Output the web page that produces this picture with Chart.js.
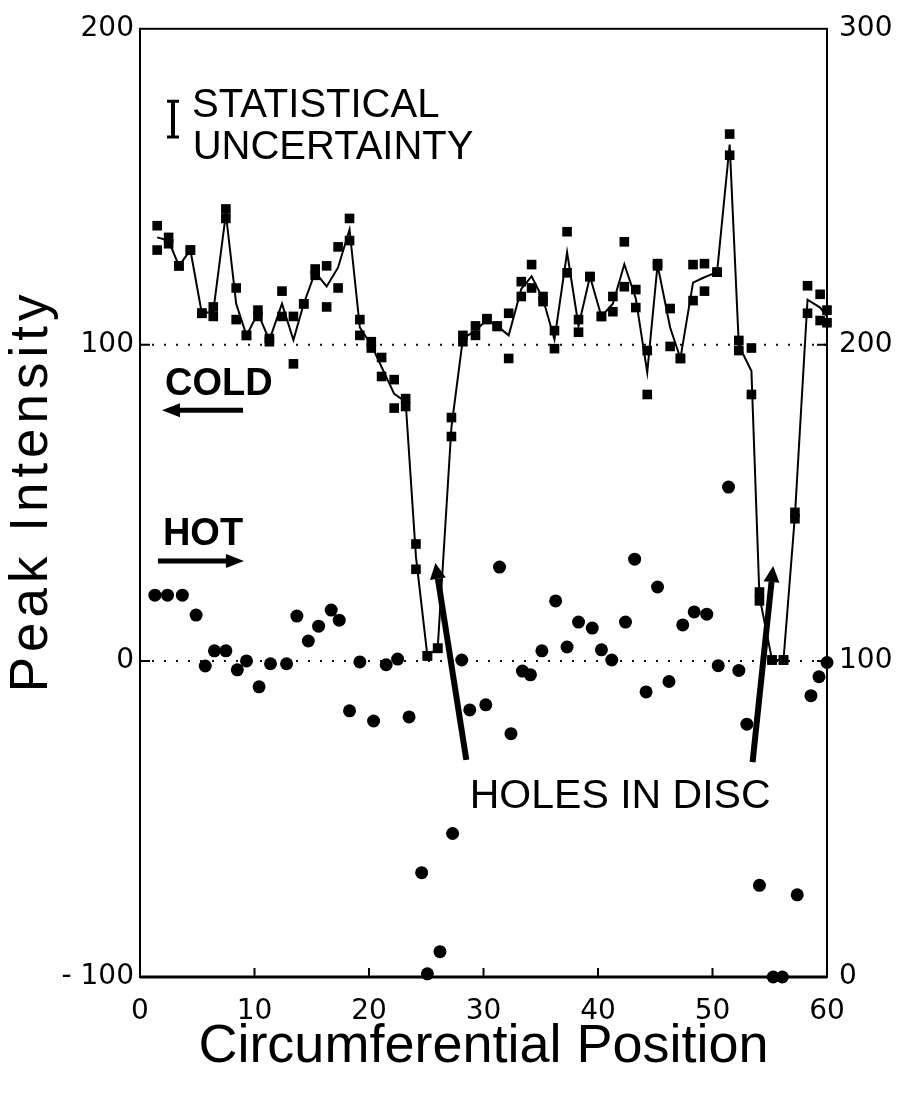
<!DOCTYPE html>
<html>
<head>
<meta charset="utf-8">
<script src="https://cdn.jsdelivr.net/npm/chart.js@4.4.1/dist/chart.umd.min.js"></script>
<style>
  html, body { margin: 0; padding: 0; background: #fff; }
  #wrap { width: 908px; height: 1098px; }
</style>
</head>
<body>
<div id="wrap"><canvas id="chart" width="908" height="1098"></canvas></div>
<script>
// cold side: two readings per position (squares) and the line drawn through them
const coldX = [1.5, 2.5, 3.4, 4.4, 5.4, 6.4, 7.5, 8.4, 9.3, 10.3,
  11.3, 12.4, 13.4, 14.3, 15.3, 16.3, 17.3, 18.3, 19.2, 20.2,
  21.1, 22.2, 23.2, 24.1, 25.1, 26.0, 27.2, 28.2, 29.3, 30.3,
  31.2, 32.2, 33.3, 34.2, 35.2, 36.2, 37.3, 38.3, 39.3, 40.3,
  41.3, 42.3, 43.3, 44.3, 45.2, 46.3, 47.2, 48.3, 49.3, 50.4,
  51.5, 52.3, 53.4, 54.1, 55.2, 56.2, 57.2, 58.3, 59.4, 60.0];
const coldHigh = [137.7, 134, 125, 130, 110, 112, 143, 118, 103, 111,
  102, 117, 109, 113, 124, 125, 131, 140, 108, 101,
  96, 89, 83, 37, 1.6, 4, 77, 103, 106, 108.3,
  106, 110, 120, 125.4, 115.3, 104.5, 135.8, 108, 121.6, 109,
  115.3, 132.6, 117.5, 98.2, 125.7, 111.5, 95.7, 125.4, 125.7, 123,
  166.7, 101.4, 99, 21.8, 0.3, 0.3, 47, 118.7, 116, 111];
const coldLow = [130, 132, 125, 130, 110, 109, 140, 108, 103, 109,
  101, 109, 94, 113, 122, 112, 118, 133, 103, 99,
  90, 80, 80.5, 29, 1.6, 4, 71, 101, 103, 108,
  105.8, 95.7, 115.3, 118, 113.7, 98.8, 122.8, 104, 121.6, 109,
  110.5, 118.4, 111.8, 84.3, 125, 99.5, 95.7, 114, 117, 123,
  160, 98.2, 84.3, 19, 0.3, 0.3, 45, 110, 107.7, 107];
const coldLine = [134, 133, 125, 130, 110, 110.5, 141.5, 113, 103, 110,
  101.5, 113, 101.5, 113, 123, 118.5, 124.5, 136.5, 105.5, 100,
  93, 84.5, 82, 33, 1.6, 4, 74, 102, 104.5, 108,
  106, 103, 117.7, 121.7, 114.5, 101.7, 129.3, 106, 121.6, 109,
  113, 125.5, 114.7, 91.3, 125.3, 105.5, 95.7, 119.7, 121.4, 123,
  163.4, 99.8, 91.7, 20.4, 0.3, 0.3, 46, 114.3, 111.8, 109];

// hot side: circles (read against the right-hand scale minus 100)
const hotX = [1.3, 2.4, 3.7, 4.9, 5.7, 6.5, 7.5, 8.5, 9.3, 10.4,
  11.4, 12.8, 13.7, 14.7, 15.6, 16.7, 17.4, 18.3, 19.2, 20.4,
  21.5, 22.5, 23.5, 24.6, 25.1, 26.2, 27.3, 28.1, 28.8, 30.2,
  31.4, 32.4, 33.4, 34.1, 35.1, 36.3, 37.3, 38.3, 39.5, 40.3,
  41.2, 42.4, 43.2, 44.2, 45.2, 46.2, 47.4, 48.4, 49.5, 50.5,
  51.4, 52.3, 53.0, 54.1, 55.3, 56.1, 57.4, 58.6, 59.3, 60.0];
const hotY = [20.8, 20.8, 20.8, 14.5, -1.6, 3.2, 3.2, -2.8, 0, -8.2,
  -0.9, -0.9, 14.2, 6.3, 11, 16.1, 12.9, -15.8, -0.3, -19,
  -1.2, 0.6, -17.7, -67, -99, -92, -54.6, 0.3, -15.5, -13.9,
  29.7, -23, -3.2, -4.4, 3.2, 19, 4.4, 12.3, 10.4, 3.5,
  0.3, 12.3, 32.2, -9.8, 23.4, -6.5, 11.4, 15.5, 14.8, -1.5,
  55, -3, -20, -71, -100, -100, -74, -11, -5, -0.5];

const xTicks = [0, 10, 20, 30, 40, 50, 60];
const leftTicks = [-100, 0, 100, 200];
const rightTicks = [0, 100, 200, 300];
const refLevels = [0, 100];

const pts = (xs, ys) => xs.map((x, i) => ({ x, y: ys[i] }));
const setTicks = list => scale => { scale.ticks = list.map(v => ({ value: v })); };

function arrow(ctx, x0, y0, x1, y1, shaft, headLen, headHalf) {
  const a = Math.atan2(y1 - y0, x1 - x0);
  const bx = x1 - Math.cos(a) * headLen;
  const by = y1 - Math.sin(a) * headLen;
  ctx.lineWidth = shaft;
  ctx.lineCap = 'butt';
  ctx.beginPath();
  ctx.moveTo(x0, y0);
  ctx.lineTo(bx, by);
  ctx.stroke();
  ctx.beginPath();
  ctx.moveTo(x1, y1);
  ctx.lineTo(bx + Math.sin(a) * headHalf, by - Math.cos(a) * headHalf);
  ctx.lineTo(bx - Math.sin(a) * headHalf, by + Math.cos(a) * headHalf);
  ctx.closePath();
  ctx.fill();
}

const decorations = {
  id: 'decorations',
  afterDraw(chart) {
    const { ctx, chartArea: area, scales } = chart;
    const px = v => scales.x.getPixelForValue(v);
    const py = v => scales.y.getPixelForValue(v);
    ctx.save();
    ctx.strokeStyle = '#000';
    ctx.fillStyle = '#000';

    // frame
    ctx.lineWidth = 2;
    ctx.strokeRect(area.left, area.top, area.right - area.left, area.bottom - area.top);
    ctx.lineWidth = 3;
    ctx.beginPath();
    ctx.moveTo(area.left, area.bottom);
    ctx.lineTo(area.right, area.bottom);
    ctx.stroke();

    // inward tick marks
    ctx.lineWidth = 2;
    xTicks.slice(1, -1).forEach(v => {
      ctx.beginPath();
      ctx.moveTo(px(v), area.bottom);
      ctx.lineTo(px(v), area.bottom - 9);
      ctx.stroke();
    });
    refLevels.forEach(v => {
      ctx.beginPath();
      ctx.moveTo(area.left, py(v));
      ctx.lineTo(area.left + 10, py(v));
      ctx.moveTo(area.right, py(v));
      ctx.lineTo(area.right - 10, py(v));
      ctx.stroke();
    });

    // y axis title, spaced out like the original lettering
    ctx.save();
    ctx.translate(32, (area.top + area.bottom) / 2 - 12);
    ctx.rotate(-Math.PI / 2);
    ctx.font = '53px "Liberation Sans"';
    ctx.letterSpacing = '5px';
    ctx.textAlign = 'center';
    ctx.textBaseline = 'middle';
    ctx.fillText('Peak Intensity', 0, 0);
    ctx.restore();

    // statistical uncertainty bar
    ctx.lineWidth = 4;
    ctx.beginPath();
    ctx.moveTo(px(2.88), py(177.1));
    ctx.lineTo(px(2.88), py(165.8));
    ctx.stroke();
    ctx.lineWidth = 3;
    ctx.beginPath();
    ctx.moveTo(px(2.88) - 6, py(177.1));
    ctx.lineTo(px(2.88) + 6, py(177.1));
    ctx.moveTo(px(2.88) - 6, py(165.8));
    ctx.lineTo(px(2.88) + 6, py(165.8));
    ctx.stroke();

    ctx.textBaseline = 'alphabetic';
    ctx.textAlign = 'left';
    ctx.font = '40px "Liberation Sans"';
    ctx.fillText('STATISTICAL', px(4.54), py(172.1));
    ctx.fillText('UNCERTAINTY', px(4.6), py(158.8));

    ctx.font = 'bold 38px "Liberation Sans"';
    ctx.fillText('COLD', px(2.18), py(84));
    ctx.fillText('HOT', px(2.0), py(36.6));
    arrow(ctx, px(9.0), py(79.3), px(1.92), py(79.3), 5, 18, 7);
    arrow(ctx, px(1.57), py(31.6), px(9.08), py(31.6), 5, 18, 7);

    ctx.font = '41px "Liberation Sans"';
    ctx.fillText('HOLES IN DISC', px(28.8), py(-46.4));
    arrow(ctx, px(28.5), py(-31.3), px(25.8), py(31), 6, 16, 8);
    arrow(ctx, px(53.5), py(-32), px(55.3), py(30), 6, 16, 8);
    ctx.restore();
  }
};

const tickFont = { family: 'DejaVu Sans', size: 28 };

new Chart(document.getElementById('chart'), {
  type: 'scatter',
  data: {
    datasets: [
      { data: pts(coldX, coldHigh), pointStyle: 'rect', pointRadius: 6.8, backgroundColor: '#000', borderWidth: 0, clip: false },
      { data: pts(coldX, coldLow), pointStyle: 'rect', pointRadius: 6.8, backgroundColor: '#000', borderWidth: 0, clip: false },
      { data: pts(hotX, hotY), pointStyle: 'circle', pointRadius: 6.5, backgroundColor: '#000', borderWidth: 0, clip: false },
      { data: pts(coldX, coldLine), showLine: true, pointRadius: 0, borderColor: '#000', borderWidth: 2, tension: 0 },
      ...refLevels.map(level => ({
        data: [{ x: xTicks[0], y: level }, { x: xTicks[xTicks.length - 1], y: level }],
        showLine: true, pointRadius: 0, borderColor: '#111', borderWidth: 2, borderDash: [2, 10]
      }))
    ]
  },
  options: {
    responsive: false,
    animation: false,
    events: [],
    layout: { padding: { top: 23, left: 0, right: 0, bottom: 0 } },
    plugins: { legend: { display: false }, tooltip: { enabled: false } },
    scales: {
      x: {
        type: 'linear', min: 0, max: 60,
        afterBuildTicks: setTicks(xTicks),
        afterFit: s => { s.height = 121; },
        grid: { display: false, drawTicks: false },
        border: { display: false },
        ticks: { font: tickFont, color: '#000', padding: 18, maxRotation: 0 },
        title: { display: true, text: 'Circumferential Position', color: '#000',
          font: { family: 'Liberation Sans', size: 54 }, padding: { top: 0, bottom: 18 } }
      },
      y: {
        position: 'left', min: -100, max: 200,
        afterBuildTicks: setTicks(leftTicks),
        afterFit: s => { s.width = 140; },
        grid: { display: false, drawTicks: false },
        border: { display: false },
        ticks: { font: tickFont, color: '#000', padding: 6,
          callback: v => v < 0 ? '- ' + Math.abs(v) : String(v) }
      },
      y2: {
        position: 'right', min: 0, max: 300,
        afterBuildTicks: setTicks(rightTicks),
        afterFit: s => { s.width = 81; },
        grid: { display: false, drawTicks: false },
        border: { display: false },
        ticks: { font: tickFont, color: '#000', padding: 12 }
      }
    }
  },
  plugins: [decorations]
});
</script>
</body>
</html>
